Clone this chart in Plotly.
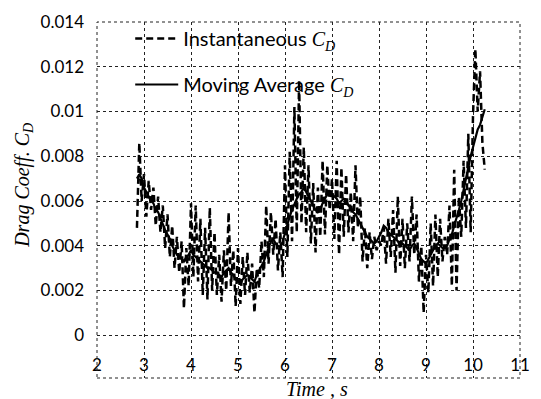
import numpy as np
import plotly.graph_objects as go

# ---- data (values in units of 1e-3) ----
t_start = 2.85
t_step = 0.05
cd_inst_e3 = [
    4.8, 8.6, 6.0, 7.2, 5.3, 6.9, 5.6, 6.6, 4.9, 6.2,
    4.6, 5.8, 3.9, 5.4, 3.5, 4.9, 3.0, 4.4, 2.8, 4.2,
    1.2, 3.9, 2.2, 5.9, 2.6, 5.8, 2.4, 5.2, 1.8, 4.8,
    1.6, 5.7, 2.0, 4.6, 1.8, 3.6, 1.5, 3.8, 2.0, 5.5,
    2.2, 3.8, 1.3, 3.9, 1.4, 3.5, 1.8, 3.7, 1.9, 3.2,
    1.0, 3.0, 2.1, 4.2, 2.6, 5.8, 3.2, 5.5, 3.6, 5.2,
    2.9, 4.6, 2.6, 7.6, 3.5, 8.2, 4.2, 10.2, 4.6, 11.4,
    5.0, 8.4, 4.6, 7.6, 4.1, 6.8, 3.7, 6.6, 4.4, 7.8,
    4.5, 7.6, 5.6, 7.0, 4.3, 7.8, 3.6, 7.5, 4.4, 7.2,
    4.6, 6.4, 4.2, 7.6, 4.8, 6.2, 3.3, 4.8, 3.0, 4.6,
    3.4, 4.4, 3.8, 4.2, 4.0, 4.8, 3.2, 5.2, 3.5, 5.6,
    2.8, 6.2, 3.1, 5.2, 3.0, 5.0, 3.3, 6.2, 3.6, 5.4,
    2.4, 4.0, 1.0, 3.6, 1.9, 5.0, 2.2, 5.4, 2.6, 5.2,
    3.3, 4.4, 3.6, 5.8, 2.2, 7.4, 2.0, 6.2, 4.4, 7.8,
    4.8, 9.0, 4.6, 9.8, 12.8, 10.0, 11.8, 8.6, 7.4,
]
cd_avg_e3 = [
    7.0, 7.2, 7.0, 6.6, 6.4, 6.2, 6.0, 5.9, 5.6, 5.5,
    5.2, 5.0, 4.7, 4.5, 4.3, 4.0, 3.8, 3.6, 3.5, 3.4,
    3.3, 3.5, 3.6, 3.8, 3.6, 3.5, 3.4, 3.3, 3.2, 3.1,
    3.0, 3.0, 2.9, 2.8, 2.8, 2.7, 2.6, 2.8, 2.9, 3.0,
    2.8, 2.7, 2.5, 2.4, 2.3, 2.5, 2.6, 2.7, 2.6, 2.5,
    2.4, 2.7, 2.9, 3.1, 3.3, 3.6, 3.9, 4.2, 4.3, 4.1,
    4.0, 3.9, 4.2, 4.6, 4.9, 5.3, 5.6, 5.9, 6.1, 6.3,
    6.4, 6.6, 6.4, 6.2, 6.0, 5.8, 5.6, 5.5, 5.6, 5.9,
    6.1, 6.3, 6.4, 6.3, 6.2, 6.1, 5.9, 6.0, 6.1, 6.0,
    5.8, 5.7, 5.5, 5.4, 5.2, 5.0, 4.8, 4.6, 4.4, 4.3,
    4.2, 4.1, 4.2, 4.4, 4.6, 4.9, 4.8, 4.6, 4.5, 4.4,
    4.3, 4.2, 4.0, 4.1, 4.0, 3.9, 3.8, 4.0, 4.1, 3.9,
    3.6, 3.4, 3.3, 3.2, 3.4, 3.6, 3.8, 4.0, 4.1, 4.0,
    3.9, 3.9, 4.0, 4.3, 4.5, 4.9, 5.2, 5.6, 6.0, 6.5,
    7.0, 7.6, 8.0, 8.4, 8.8, 9.2, 9.4, 9.8, 10.1,
]
assert len(cd_inst_e3) == len(cd_avg_e3)

time_s = t_start + t_step * np.arange(len(cd_inst_e3))
cd_inst = [v / 1000 for v in cd_inst_e3]
cd_avg = [v / 1000 for v in cd_avg_e3]

x_ticks = [2, 3, 4, 5, 6, 7, 8, 9, 10, 11]
y_ticks = [0, 0.002, 0.004, 0.006, 0.008, 0.01, 0.012, 0.014]
y_tick_text = ["0", "0.002", "0.004", "0.006", "0.008", "0.01", "0.012", "0.014"]

CD = "<i><span style='font-family:Liberation Serif'>C<sub>D</sub></span></i>"

fig = go.Figure()
fig.add_trace(go.Scatter(
    x=time_s, y=cd_inst, mode="lines",
    name="Instantaneous " + CD, legendgroup="a",
    line=dict(color="black", width=2.5, dash="7px,4px"),
))
fig.add_trace(go.Scatter(
    x=time_s, y=cd_avg, mode="lines",
    name="Moving Average " + CD, legendgroup="b",
    line=dict(color="black", width=2.2),
))

grid = dict(showgrid=True, gridcolor="#222", gridwidth=1, griddash="dot",
            zeroline=False, showline=False, ticks="")

fig.update_xaxes(range=[2, 11], tickvals=x_ticks,
                 ticklabelposition="inside", ticklabeloverflow="allow",
                 ticklabelstandoff=1,
                 tickfont=dict(family="Lato", size=17, color="black"), **grid)
fig.update_yaxes(range=[-0.00191, 0.014], tickvals=y_ticks, ticktext=y_tick_text,
                 ticklabelstandoff=12,
                 tickfont=dict(family="Lato", size=17, color="black"), **grid)

fig.add_shape(type="rect", xref="paper", yref="paper", x0=0, y0=0, x1=1, y1=1,
              line=dict(color="#222", width=1, dash="dot"))

fig.add_annotation(text="<i>Time , s</i>", xref="paper", yref="paper",
                   x=(322 - 97) / 433, y=(378 - 389) / 358, showarrow=False,
                   font=dict(family="Liberation Serif", size=20, color="black"),
                   xanchor="center", yanchor="middle")
fig.add_annotation(text="<i>Drag Coeff. C<sub>D</sub></i>", xref="paper", yref="paper",
                   x=(21 - 97) / 433, y=(378 - 184) / 358, showarrow=False, textangle=-90,
                   font=dict(family="Liberation Serif", size=20, color="black"),
                   xanchor="center", yanchor="middle")

fig.update_layout(
    width=541, height=399,
    margin=dict(l=97, r=11, t=20, b=21),
    paper_bgcolor="white", plot_bgcolor="white",
    showlegend=True,
    legend=dict(x=(131 - 97) / 433, y=(378 - 17) / 358, xanchor="left", yanchor="top",
                bgcolor="rgba(0,0,0,0)", tracegroupgap=17, itemwidth=43,
                font=dict(family="Lato", size=20, color="black")),
)

fig.write_html("out.html", config={"displayModeBar": False},
               post_script="document.body.style.margin='0';")
